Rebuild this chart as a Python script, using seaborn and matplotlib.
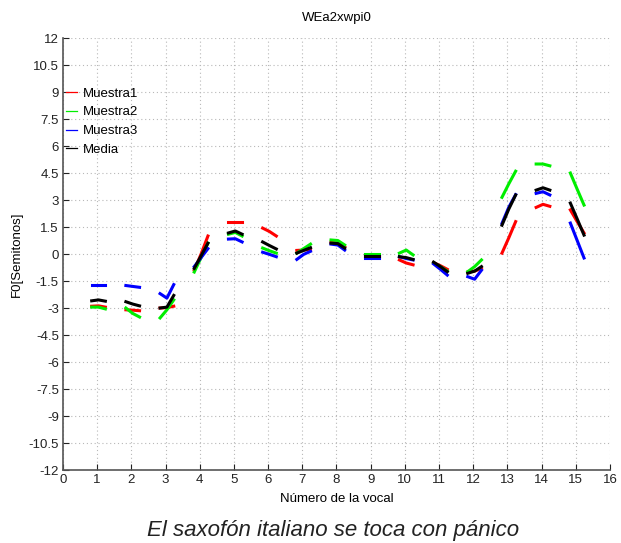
import numpy as np
import pandas as pd
import matplotlib
matplotlib.use("Agg")
import matplotlib.pyplot as plt
import seaborn as sb
from matplotlib.lines import Line2D

# valores (inicio, medio, fin) de cada vocal, en semitonos
vocales = list(range(1, 16))
muestra1 = [[-2.9, -2.88, -2.95], [-3.1, -3.12, -3.15], [-3.0, -2.98, -2.9], [-0.9, 0.0, 1.0],
            [1.78, 1.78, 1.78], [1.44, 1.25, 1.0], [0.2, 0.22, 0.25], [0.65, 0.6, 0.4],
            [-0.1, -0.1, -0.1], [-0.33, -0.5, -0.6], [-0.48, -0.65, -0.85], [-1.0, -0.95, -0.8],
            [0.05, 0.9, 1.8], [2.59, 2.76, 2.65], [2.45, 1.8, 1.17]]
muestra2 = [[-2.95, -2.95, -3.05], [-3.0, -3.3, -3.5], [-3.55, -3.1, -2.55], [-1.0, -0.2, 0.6],
            [1.1, 1.2, 1.0], [0.33, 0.18, 0.05], [0.05, 0.3, 0.55], [0.78, 0.75, 0.5],
            [0.0, 0.0, 0.0], [0.05, 0.22, -0.05], [-0.5, -0.7, -0.95], [-0.98, -0.7, -0.33],
            [3.15, 3.9, 4.6], [5.0, 5.0, 4.9], [4.5, 3.6, 2.72]]
muestra3 = [[-1.72, -1.72, -1.72], [-1.75, -1.8, -1.85], [-2.2, -2.45, -1.7], [-0.7, -0.2, 0.3],
            [0.83, 0.85, 0.67], [0.1, -0.02, -0.15], [-0.3, -0.02, 0.15], [0.55, 0.5, 0.22],
            [-0.2, -0.2, -0.2], [-0.15, -0.25, -0.33], [-0.55, -0.85, -1.17], [-1.26, -1.4, -0.9],
            [1.7, 2.6, 3.3], [3.37, 3.46, 3.28], [1.72, 0.75, -0.22]]
media = [[-2.6, -2.55, -2.62], [-2.65, -2.78, -2.88], [-3.0, -2.95, -2.3], [-0.8, -0.1, 0.6],
         [1.17, 1.28, 1.1], [0.67, 0.47, 0.28], [0.05, 0.2, 0.35], [0.6, 0.58, 0.33],
         [-0.1, -0.1, -0.1], [-0.15, -0.2, -0.3], [-0.45, -0.7, -0.98], [-1.07, -0.95, -0.7],
         [1.6, 2.5, 3.28], [3.55, 3.68, 3.55], [2.83, 1.95, 1.05]]

series = {"Muestra1": muestra1, "Muestra2": muestra2, "Muestra3": muestra3, "Media": media}
colores = {"Muestra1": "#ff0000", "Muestra2": "#00ee00", "Muestra3": "#0000ff", "Media": "#000000"}
y_ticks = np.arange(-12, 12.1, 1.5)
y_labels = ["%g" % t for t in y_ticks]
x_ticks = list(range(0, 17))

offs = [-0.16, 0.04, 0.24]
rows = []
for nombre, vals in series.items():
    for v, trio in zip(vocales, vals):
        for o, y in zip(offs, trio):
            rows.append({"serie": nombre, "vocal": v, "x": v + o, "y": y})
df = pd.DataFrame(rows)

plt.rcParams['font.family'] = ['Liberation Sans', 'DejaVu Sans']
fig = plt.figure(figsize=(6.21, 5.43), dpi=100)
ax = fig.add_axes([0.1014, 0.1344, 0.8809, 0.7956])

sb.lineplot(data=df, x="x", y="y", hue="serie", units="vocal", estimator=None,
            palette=colores, lw=2.2, sort=False, legend=False, ax=ax)

ax.set_xlim(0, 16)
ax.set_ylim(-12, 12)
ax.set_xticks(x_ticks)
ax.set_yticks(y_ticks)
ax.set_yticklabels(y_labels)
ax.tick_params(direction="in", length=4, labelsize=9.5, colors="#222222", pad=3)
ax.grid(True, linestyle=(0, (1, 2.5)), color="#b8b8b8", lw=0.8)
for s in ["top", "right"]:
    ax.spines[s].set_visible(False)
for s in ["left", "bottom"]:
    ax.spines[s].set_color("#555555")
    ax.spines[s].set_linewidth(1.2)

ax.set_title("WEa2xwpi0", fontsize=9.5, pad=12)
ax.set_xlabel("Número de la vocal", fontsize=9.5, labelpad=5)
ax.set_ylabel("F0[Semitonos]", fontsize=9.5, labelpad=4)

handles = [Line2D([], [], color=colores[n], lw=0.9) for n in series]
ax.legend(handles, list(series.keys()), loc="upper left", bbox_to_anchor=(-0.005, 0.898),
          frameon=False, fontsize=9.5, handlelength=0.9, handletextpad=0.4,
          labelspacing=0.5, borderaxespad=0)

fig.text(0.537, 0.004, "El saxofón italiano se toca con pánico", style="italic",
         fontsize=16, ha="center", va="bottom", color="#222222")

fig.savefig("out.png", dpi=100)
